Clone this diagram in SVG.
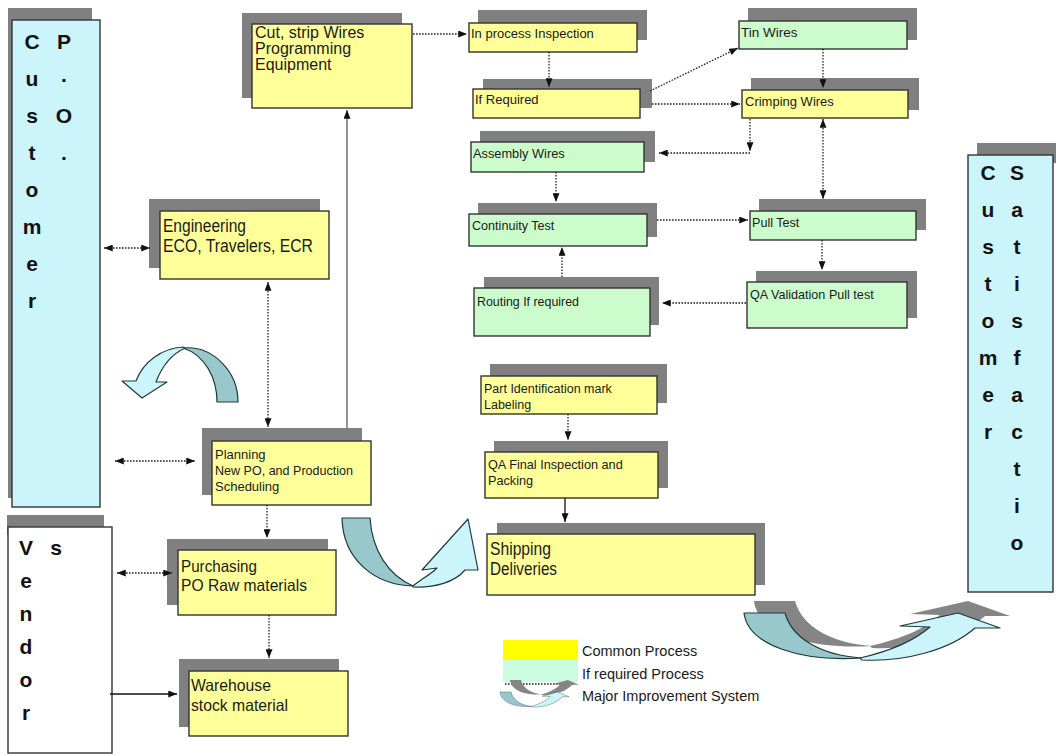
<svg xmlns="http://www.w3.org/2000/svg" width="1056" height="756" viewBox="0 0 1056 756">
  <style>
    .sh { fill: #808080; }
    .ny { fill: #ffff99; stroke: #333; stroke-width: 1.4; }
    .ng { fill: #ccfccc; stroke: #333; stroke-width: 1.4; }
    .nc { fill: #cbf5fb; stroke: #333; stroke-width: 1.4; }
    .nw { fill: #ffffff; stroke: #333; stroke-width: 1.4; }
    .t { font-family: "Liberation Sans", Arial, sans-serif; fill: #1a1a1a; }
    .big { font-family: "Liberation Sans", Arial, sans-serif; font-weight: bold; font-size: 21px; text-anchor: middle; fill: #111; }
    .dot { fill: none; stroke: #222; stroke-width: 1.3; stroke-dasharray: 1.6 1.4; }
    .sol { fill: none; stroke: #111; stroke-width: 1.3; }
    .gry { fill: none; stroke: #6e6e6e; stroke-width: 1.5; }
    .adark { fill: #99c8cc; stroke: #1f3a3a; stroke-width: 1.2; stroke-linejoin: round; }
    .alight { fill: #ccf5fb; stroke: #1f3a3a; stroke-width: 1.2; stroke-linejoin: round; }
  </style>
  <defs>
    <marker id="ah" viewBox="0 0 10 8" refX="10" refY="4" markerWidth="9" markerHeight="7" markerUnits="userSpaceOnUse" orient="auto-start-reverse">
      <path d="M0,0 L10,4 L0,8 z" fill="#111"/>
    </marker>
    <!-- twisted ribbon arrow, lower right -->
    <g id="ribbon">
      <path class="adark" d="M744,613 L785,613 C792,638 820,655 862,658 C800,662 748,645 744,613 Z"/>
      <path class="alight" d="M860,658 C895,650 915,640 930,627 L900,626 L958,613 L1000,628 L975,628 C950,650 905,662 862,660 Z"/>
    </g>
    <g id="ribbonShadow" fill="#858585">
      <path d="M744,613 L785,613 C792,638 820,655 862,658 C800,662 748,645 744,613 Z"/>
      <path d="M860,658 C895,650 915,640 930,627 L900,626 L958,613 L1000,628 L975,628 C950,650 905,662 862,660 Z"/>
    </g>
  </defs>

  <!-- Customer P.O. -->
  <g id="customer-po">
    <rect class="sh" x="8" y="8" width="84" height="490"/>
    <rect class="nc" x="12" y="20" width="88" height="487"/>
    <text class="big" x="32" y="49">C</text>
    <text class="big" x="32" y="86">u</text>
    <text class="big" x="32" y="123">s</text>
    <text class="big" x="32" y="160">t</text>
    <text class="big" x="32" y="197">o</text>
    <text class="big" x="32" y="234">m</text>
    <text class="big" x="32" y="271">e</text>
    <text class="big" x="32" y="308">r</text>
    <text class="big" x="64" y="49">P</text>
    <text class="big" x="64" y="82">.</text>
    <text class="big" x="64" y="123">O</text>
    <text class="big" x="64" y="160">.</text>
  </g>

  <!-- Vendors -->
  <g id="vendors">
    <rect class="sh" x="7" y="515" width="97" height="20"/>
    <rect class="nw" x="8" y="527" width="104" height="226"/>
    <text class="big" x="26" y="555">V</text>
    <text class="big" x="26" y="588">e</text>
    <text class="big" x="26" y="621">n</text>
    <text class="big" x="26" y="654">d</text>
    <text class="big" x="26" y="687">o</text>
    <text class="big" x="26" y="720">r</text>
    <text class="big" x="56" y="555">s</text>
  </g>

  <!-- Customer Satisfaction -->
  <g id="customer-satisfaction">
    <rect class="sh" x="977" y="143" width="79" height="20"/>
    <rect class="nc" x="968" y="155" width="85" height="437"/>
    <text class="big" x="988" y="180">C</text>
    <text class="big" x="988" y="217">u</text>
    <text class="big" x="988" y="254">s</text>
    <text class="big" x="988" y="291">t</text>
    <text class="big" x="988" y="328">o</text>
    <text class="big" x="988" y="365">m</text>
    <text class="big" x="988" y="402">e</text>
    <text class="big" x="988" y="439">r</text>
    <text class="big" x="1017" y="180">S</text>
    <text class="big" x="1017" y="217">a</text>
    <text class="big" x="1017" y="254">t</text>
    <text class="big" x="1017" y="291">i</text>
    <text class="big" x="1017" y="328">s</text>
    <text class="big" x="1017" y="365">f</text>
    <text class="big" x="1017" y="402">a</text>
    <text class="big" x="1017" y="439">c</text>
    <text class="big" x="1017" y="476">t</text>
    <text class="big" x="1017" y="513">i</text>
    <text class="big" x="1017" y="550">o</text>
  </g>

  <!-- Process steps (yellow = common, green = if required) -->
  <g id="cut-strip">
    <rect class="sh" x="242" y="13" width="160" height="85"/>
    <rect class="ny" x="252" y="24" width="160" height="84"/>
    <text class="t" font-size="16" x="255" y="38">Cut, strip  Wires</text>
    <text class="t" font-size="16" x="255" y="54">Programming</text>
    <text class="t" font-size="16" x="255" y="70">Equipment</text>
  </g>
  <g id="in-process">
    <rect class="sh" x="478" y="10" width="169" height="30"/>
    <rect class="ny" x="469" y="23" width="168" height="29"/>
    <text class="t" font-size="13" x="471" y="38">In process Inspection</text>
  </g>
  <g id="if-required">
    <rect class="sh" x="483" y="79" width="169" height="29"/>
    <rect class="ny" x="473" y="89" width="167" height="29"/>
    <text class="t" font-size="13" x="475" y="104">If Required</text>
  </g>
  <g id="tin-wires">
    <rect class="sh" x="748" y="8" width="169" height="32"/>
    <rect class="ng" x="739" y="21" width="168" height="28"/>
    <text class="t" font-size="13.5" x="741" y="37">Tin Wires</text>
  </g>
  <g id="crimping-wires">
    <rect class="sh" x="751" y="78" width="168" height="32"/>
    <rect class="ny" x="742" y="90" width="166" height="28"/>
    <text class="t" font-size="13" x="745" y="106">Crimping Wires</text>
  </g>
  <g id="assembly-wires">
    <rect class="sh" x="480" y="131" width="175" height="31"/>
    <rect class="ng" x="471" y="142" width="173" height="30"/>
    <text class="t" font-size="12.8" x="473" y="158">Assembly  Wires</text>
  </g>
  <g id="continuity-test">
    <rect class="sh" x="478" y="203" width="179" height="34"/>
    <rect class="ng" x="469" y="214" width="178" height="32"/>
    <text class="t" font-size="12.6" x="472" y="230">Continuity Test</text>
  </g>
  <g id="pull-test">
    <rect class="sh" x="759" y="199" width="167" height="31"/>
    <rect class="ng" x="750" y="211" width="166" height="29"/>
    <text class="t" font-size="12.6" x="752" y="227">Pull Test</text>
  </g>
  <g id="routing">
    <rect class="sh" x="484" y="277" width="175" height="48"/>
    <rect class="ng" x="474" y="288" width="176" height="48"/>
    <text class="t" font-size="12.4" x="477" y="306">Routing If required</text>
  </g>
  <g id="qa-validation">
    <rect class="sh" x="756" y="271" width="161" height="47"/>
    <rect class="ng" x="747" y="282" width="160" height="46"/>
    <text class="t" font-size="12.6" x="750" y="299">QA Validation Pull test</text>
  </g>
  <g id="engineering">
    <rect class="sh" x="149" y="199" width="171" height="69"/>
    <rect class="ny" x="160" y="211" width="169" height="68"/>
    <text class="t" font-size="17.5" x="163" y="232" textLength="83" lengthAdjust="spacingAndGlyphs">Engineering</text>
    <text class="t" font-size="17.5" x="163" y="252" textLength="150" lengthAdjust="spacingAndGlyphs">ECO, Travelers, ECR</text>
  </g>
  <g id="planning">
    <rect class="sh" x="202" y="428" width="160" height="67"/>
    <rect class="ny" x="212" y="441" width="159" height="64"/>
    <text class="t" font-size="13" x="215" y="459">Planning</text>
    <text class="t" font-size="13" x="215" y="475" textLength="138" lengthAdjust="spacingAndGlyphs">New PO, and Production</text>
    <text class="t" font-size="13" x="215" y="491">Scheduling</text>
  </g>
  <g id="purchasing">
    <rect class="sh" x="167" y="539" width="161" height="66"/>
    <rect class="ny" x="178" y="550" width="158" height="65"/>
    <text class="t" font-size="16.5" x="181" y="572" textLength="76" lengthAdjust="spacingAndGlyphs">Purchasing</text>
    <text class="t" font-size="16.5" x="181" y="591" textLength="126" lengthAdjust="spacingAndGlyphs">PO Raw materials</text>
  </g>
  <g id="warehouse">
    <rect class="sh" x="179" y="659" width="160" height="68"/>
    <rect class="ny" x="189" y="671" width="159" height="65"/>
    <text class="t" font-size="16.5" x="191" y="691" textLength="80" lengthAdjust="spacingAndGlyphs">Warehouse</text>
    <text class="t" font-size="16.5" x="191" y="711" textLength="97" lengthAdjust="spacingAndGlyphs">stock material</text>
  </g>
  <g id="part-identification">
    <rect class="sh" x="490" y="364" width="177" height="39"/>
    <rect class="ny" x="481" y="376" width="176" height="38"/>
    <text class="t" font-size="12.5" x="484" y="393">Part Identification mark</text>
    <text class="t" font-size="12.5" x="484" y="409">Labeling</text>
  </g>
  <g id="qa-final">
    <rect class="sh" x="494" y="441" width="174" height="47"/>
    <rect class="ny" x="485" y="452" width="173" height="46"/>
    <text class="t" font-size="12.7" x="488" y="469">QA Final Inspection and</text>
    <text class="t" font-size="12.7" x="488" y="485">Packing</text>
  </g>
  <g id="shipping">
    <rect class="sh" x="497" y="523" width="268" height="62"/>
    <rect class="ny" x="487" y="534" width="268" height="61"/>
    <text class="t" font-size="17.5" x="490" y="555" textLength="61" lengthAdjust="spacingAndGlyphs">Shipping</text>
    <text class="t" font-size="17.5" x="490" y="575" textLength="67" lengthAdjust="spacingAndGlyphs">Deliveries</text>
  </g>

  <!-- Connectors -->
  <g id="connectors">
    <path class="dot" d="M104,248 H150" marker-start="url(#ah)" marker-end="url(#ah)"/>
    <path class="dot" d="M115,461 H195" marker-start="url(#ah)" marker-end="url(#ah)"/>
    <path class="dot" d="M268,282 V427" marker-start="url(#ah)" marker-end="url(#ah)"/>
    <path class="gry" d="M347,428 V110" marker-end="url(#ah)"/>
    <path class="dot" d="M413,34 H467" marker-end="url(#ah)"/>
    <path class="dot" d="M549,52 V87" marker-end="url(#ah)"/>
    <path class="dot" d="M650,91 L738,48" marker-end="url(#ah)"/>
    <path class="dot" d="M652,104 H740" marker-end="url(#ah)"/>
    <path class="dot" d="M823,49 V88" marker-end="url(#ah)"/>
    <path class="dot" d="M750,119 V151" marker-end="url(#ah)"/>
    <path class="dot" d="M750,153 H659" marker-end="url(#ah)"/>
    <path class="dot" d="M823,119 V199" marker-start="url(#ah)" marker-end="url(#ah)"/>
    <path class="dot" d="M556,172 V202" marker-end="url(#ah)"/>
    <path class="dot" d="M657,220 H748" marker-end="url(#ah)"/>
    <path class="dot" d="M822,240 V270" marker-end="url(#ah)"/>
    <path class="dot" d="M746,303 H662" marker-end="url(#ah)"/>
    <path class="dot" d="M562,277 V247" marker-end="url(#ah)"/>
    <path class="dot" d="M267,505 V538" marker-end="url(#ah)"/>
    <path class="dot" d="M269,615 V658" marker-end="url(#ah)"/>
    <path class="dot" d="M117,573 H172" marker-start="url(#ah)" marker-end="url(#ah)"/>
    <path class="sol" d="M110,694 H177" marker-end="url(#ah)"/>
    <path class="dot" d="M568,414 V440" marker-end="url(#ah)"/>
    <path class="sol" d="M565,498 V522" marker-end="url(#ah)"/>
  </g>

  <!-- Improvement arrows -->
  <g id="improvement-arrow-left">
    <path class="adark" d="M217,402 C217,378 205,355 183,348 C213,345 238,372 238,402 Z"/>
    <path class="alight" d="M183,347 C162,348 143,362 136,381 L122,381 L142,398 L167,382 L156,382 C162,366 172,354 185,348 Z"/>
  </g>
  <g id="improvement-arrow-center">
    <path class="adark" d="M342,518 L370,518 C372,550 388,575 413,586 C375,585 343,560 342,518 Z"/>
    <path class="alight" d="M413,586 C420,580 430,575 437,568 L422,570 L468,519 L478,570 L465,570 C455,582 435,588 413,587 Z"/>
  </g>
  <g id="improvement-arrow-right">
    <use href="#ribbonShadow" transform="translate(10,-12)"/>
    <use href="#ribbon"/>
  </g>

  <!-- Legend -->
  <g id="legend">
    <rect x="503" y="640" width="75" height="20" fill="#ffff00"/>
    <rect x="503" y="660" width="75" height="22" fill="#ccfce0"/>
    <path class="dot" d="M505,684 H573" marker-end="url(#ah)"/>
    <use href="#ribbonShadow" transform="translate(510,680) scale(0.27,0.32) translate(-744,-613)"/>
    <use href="#ribbon" transform="translate(500,692) scale(0.27,0.32) translate(-744,-613)"/>
    <text class="t" font-size="14.5" x="582" y="656">Common Process</text>
    <text class="t" font-size="14.5" x="582" y="679">If required  Process</text>
    <text class="t" font-size="14.5" x="582" y="701">Major Improvement System</text>
  </g>
</svg>
